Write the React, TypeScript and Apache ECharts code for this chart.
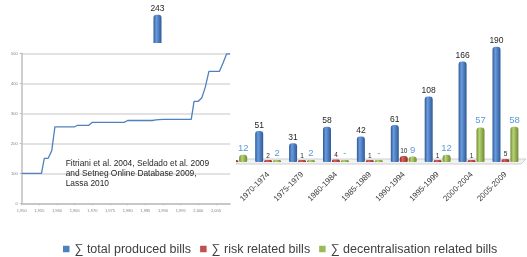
import React, { useEffect, useRef } from 'react';
import * as echarts from 'echarts';

// Left chart: cumulative bills over time (step-like line)
const lineYears = [1950, 1955.6, 1956.4, 1957.5, 1958.5, 1959.4, 1965, 1965.8, 1969, 1970, 1979, 1980, 1987, 1988, 1990, 1998, 1998.8, 2000, 2001, 2002, 2003, 2006, 2007, 2008, 2009];
const lineValues = [100, 100, 150, 150, 175, 255, 255, 260, 260, 270, 270, 276, 276, 278, 280, 280, 340, 340, 352, 388, 440, 440, 468, 498, 498];

// Right chart: bills per 5-year period
const barCategories = ['1955-1959', '1960-1964', '1965-1969', '1970-1974', '1975-1979', '1980-1984', '1985-1989', '1990-1994', '1995-1999', '2000-2004', '2005-2009'];
const totalBills = [243, null, null, 51, 31, 58, 42, 61, 108, 166, 190];
const riskBills = [null, null, 3, 2, 1, 4, 1, 10, 1, 1, 5];
const decentralBills = [null, null, 12, 2, 2, 0, 0, 9, 12, 57, 58];

const seriesNames = ['∑ total produced bills', '∑ risk related bills', '∑ decentralisation related bills'];
const seriesColors = ['#4f81bd', '#c0504d', '#9bbb59'];

const sourceNote = 'Fitriani et al. 2004, Seldado et al. 2009\nand Setneg Online Database 2009,\nLassa 2010';

const FONT = '"Liberation Sans", Arial, sans-serif';

function cyl(dark: string, light: string) {
  return new echarts.graphic.LinearGradient(0, 0, 1, 0, [
    { offset: 0, color: dark },
    { offset: 0.35, color: light },
    { offset: 1, color: dark },
  ]);
}

export default function App() {
  const ref = useRef<HTMLDivElement>(null);
  useEffect(() => {
    if (!ref.current) return;
    const chart = echarts.init(ref.current, undefined, { renderer: 'svg' });
    chart.setOption({
      animation: false,
      textStyle: { fontFamily: FONT },
      legend: {
        left: 63,
        top: 242.5,
        padding: 0,
        icon: 'rect',
        itemWidth: 6.5,
        itemHeight: 6.5,
        itemGap: 9,
        textStyle: { fontSize: 12.5, color: '#404040', fontFamily: FONT },
        data: seriesNames.map((n, i) => ({ name: n, itemStyle: { color: seriesColors[i] } })),
      },
      grid: [
        { left: 149.5, width: 372.9, top: 10.5, height: 151.5 },
        { left: 21.7, width: 208.4, top: 53.3, height: 150 },
      ],
      xAxis: [
        {
          type: 'category',
          gridIndex: 0,
          data: barCategories,
          axisLine: { show: false },
          axisTick: { show: false },
          axisLabel: { rotate: 45, fontSize: 8, margin: 11, color: '#404040', interval: 0 },
        },
        {
          type: 'value',
          gridIndex: 1,
          min: 1950,
          max: 2009,
          interval: 5,
          z: 5,
          axisLine: { show: true, lineStyle: { color: '#bfbfbf', width: 1.5 } },
          axisTick: { show: true, length: 2, lineStyle: { color: '#bfbfbf' } },
          axisLabel: { fontSize: 4, color: '#7f7f7f', margin: 5, showMaxLabel: false },
          splitLine: { show: false },
        },
      ],
      yAxis: [
        { type: 'value', gridIndex: 0, min: 0, max: 250, show: false },
        {
          type: 'value',
          gridIndex: 1,
          min: 0,
          max: 500,
          interval: 100,
          z: 5,
          axisLine: { show: true, lineStyle: { color: '#bfbfbf', width: 1.5 } },
          axisTick: { show: true, length: 2, lineStyle: { color: '#bfbfbf' } },
          axisLabel: { fontSize: 4, color: '#7f7f7f', margin: 4 },
          splitLine: { show: true, lineStyle: { color: '#d9d9d9', width: 1.5 } },
        },
      ],
      series: [
        {
          name: seriesNames[0],
          type: 'bar',
          xAxisIndex: 0,
          yAxisIndex: 0,
          data: totalBills,
          barWidth: 8,
          barGap: '12%',
          itemStyle: { color: cyl('#2d5a94', '#6a9be0'), borderRadius: [3, 3, 1, 1] },
          label: { show: true, position: 'top', distance: 2, fontSize: 8.5, color: '#262626' },
        },
        {
          name: seriesNames[1],
          type: 'bar',
          xAxisIndex: 0,
          yAxisIndex: 0,
          data: riskBills,
          barWidth: 8,
          barGap: '12%',
          barMinHeight: 2,
          itemStyle: { color: cyl('#8e2b29', '#d9625f'), borderRadius: [3, 3, 1, 1] },
          label: { show: true, position: 'top', distance: 1.5, fontSize: 6.5, color: '#262626' },
        },
        {
          name: seriesNames[2],
          type: 'bar',
          xAxisIndex: 0,
          yAxisIndex: 0,
          data: decentralBills,
          barWidth: 8,
          barGap: '12%',
          barMinHeight: 2,
          itemStyle: { color: cyl('#6e8a35', '#b8d472'), borderRadius: [3, 3, 1, 1] },
          label: {
            show: true,
            position: 'top',
            distance: 2.5,
            fontSize: 9.5,
            color: '#5b9bd5',
            formatter: (p: any) => (p.value === 0 ? '-' : String(p.value)),
          },
        },
        {
          type: 'line',
          xAxisIndex: 1,
          yAxisIndex: 1,
          z: 5,
          symbol: 'none',
          data: lineYears.map((y, i) => [y, lineValues[i]]),
          lineStyle: { color: '#4f81bd', width: 1.3 },
        },
      ],
      graphic: [
        {
          type: 'polygon',
          z: 1,
          shape: { points: [[240, 159], [526, 159], [521, 164], [236, 164]] },
          style: { fill: '#f2f2f2', stroke: '#c4c4c4', lineWidth: 0.8 },
        },
        {
          type: 'rect',
          z: 3,
          shape: { x: 0, y: 43, width: 236, height: 182 },
          style: { fill: '#ffffff' },
        },
        {
          type: 'text',
          z: 6,
          x: 65.7,
          y: 158,
          style: { text: sourceNote, font: `8.4px ${FONT}`, fill: '#262626', lineHeight: 10 },
        },
      ],
    });
    return () => chart.dispose();
  }, []);
  return <div ref={ref} style={{ position: 'fixed', left: 0, top: 0, width: 527, height: 257 }} />;
}
